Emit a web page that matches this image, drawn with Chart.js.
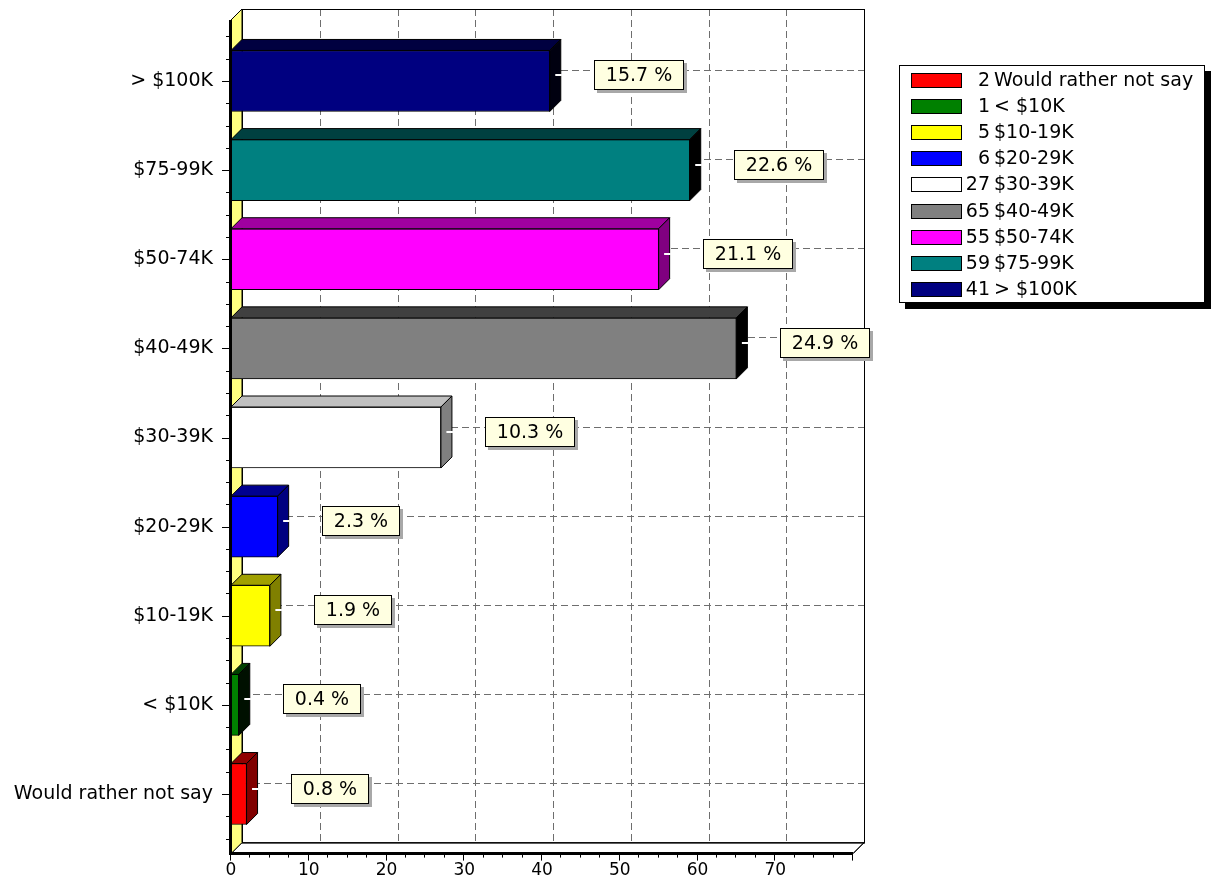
<!DOCTYPE html>
<html>
<head>
<meta charset="utf-8">
<title>Household income</title>
<script src="https://cdn.jsdelivr.net/npm/chart.js@4/dist/chart.umd.min.js"></script>
<style>
  html, body { margin: 0; padding: 0; background: #ffffff; overflow: hidden; }
  canvas { display: block; }
</style>
</head>
<body>
<canvas id="chart" width="1214" height="892"></canvas>
<script>
// Income brackets, bottom to top, and number of respondents in each
const categories = ['Would rather not say', '< $10K', '$10-19K', '$20-29K', '$30-39K', '$40-49K', '$50-74K', '$75-99K', '> $100K'];
const counts = [2, 1, 5, 6, 27, 65, 55, 59, 41];
const xTickValues = [0, 10, 20, 30, 40, 50, 60, 70];
const xMax = 80;

// Face colours of each 3D bar: front, top, side
const frontColors = ['#FF0000', '#008000', '#FFFF00', '#0000FF', '#FFFFFF', '#808080', '#FF00FF', '#008080', '#000080'];
const topColors   = ['#900000', '#004000', '#A0A000', '#000090', '#C0C0C0', '#404040', '#A000A0', '#004040', '#000040'];
const sideColors  = ['#800000', '#001000', '#808000', '#000080', '#808080', '#000000', '#800080', '#000000', '#000010'];

const total = counts.reduce((a, b) => a + b, 0);
const DEPTH = 11;          // 3D offset of the back wall
const FRAME_TOP = 16.4;    // frame extends this far above the first band
const FRAME_BOTTOM = 15;   // and this far below the last band
const FONT = 'DejaVu Sans';

Chart.defaults.font.family = FONT;

function frameBox(chart) {
  const a = chart.chartArea;
  return { L: a.left, R: a.right, T: a.top - FRAME_TOP, B: a.bottom + FRAME_BOTTOM };
}

const wallsPlugin = {
  id: 'walls3d',
  beforeDatasetsDraw(chart) {
    const ctx = chart.ctx;
    const { L, R, T, B } = frameBox(chart);
    const xs = chart.scales.x, ys = chart.scales.y;
    const D = DEPTH;
    ctx.save();
    // back wall
    ctx.fillStyle = '#ffffff';
    ctx.fillRect(L + D, T - D, R - L, B - T);
    // floor
    ctx.beginPath();
    ctx.moveTo(L, B); ctx.lineTo(L + D, B - D); ctx.lineTo(R + D, B - D); ctx.lineTo(R, B); ctx.closePath();
    ctx.fillStyle = '#ffffff'; ctx.fill();
    ctx.strokeStyle = '#000'; ctx.lineWidth = 1; ctx.stroke();

    // dashed grid on the back wall
    ctx.strokeStyle = '#6e6e6e';
    ctx.lineWidth = 1;
    ctx.setLineDash([7, 4]);
    xTickValues.forEach(v => {
      if (v === 0) return;
      const x = Math.round(xs.getPixelForValue(v) + D) + 0.5;
      ctx.beginPath(); ctx.moveTo(x, T - D); ctx.lineTo(x, B - D); ctx.stroke();
    });
    categories.forEach((c, i) => {
      const y = Math.round(ys.getPixelForValue(i) - D) + 0.5;
      ctx.beginPath(); ctx.moveTo(L + D, y); ctx.lineTo(R + D, y); ctx.stroke();
    });
    ctx.setLineDash([]);

    // back wall outline
    ctx.strokeStyle = '#000';
    ctx.strokeRect(Math.round(L + D) + 0.5, Math.round(T - D) + 0.5, R - L, B - T);

    // left side wall
    ctx.beginPath();
    ctx.moveTo(L, T); ctx.lineTo(L + D, T - D); ctx.lineTo(L + D, B - D); ctx.lineTo(L, B); ctx.closePath();
    ctx.fillStyle = '#FFFF80'; ctx.fill();
    ctx.stroke();
    ctx.restore();
  },
  afterDatasetsDraw(chart) {
    const ctx = chart.ctx;
    const { L, R, T, B } = frameBox(chart);
    const xs = chart.scales.x, ys = chart.scales.y;
    const D = DEPTH;
    const meta = chart.getDatasetMeta(0);
    ctx.save();
    ctx.lineWidth = 1;
    ctx.strokeStyle = '#000';
    meta.data.forEach((bar, i) => {
      const p = bar.getProps(['x', 'y', 'base', 'height'], true);
      const top = p.y - p.height / 2, bot = p.y + p.height / 2;
      // top face
      ctx.beginPath();
      ctx.moveTo(p.base, top); ctx.lineTo(p.base + D, top - D); ctx.lineTo(p.x + D, top - D); ctx.lineTo(p.x, top); ctx.closePath();
      ctx.fillStyle = topColors[i]; ctx.fill(); ctx.stroke();
      // side face
      ctx.beginPath();
      ctx.moveTo(p.x, top); ctx.lineTo(p.x + D, top - D); ctx.lineTo(p.x + D, bot - D); ctx.lineTo(p.x, bot); ctx.closePath();
      ctx.fillStyle = sideColors[i]; ctx.fill(); ctx.stroke();
      // small marker on the side face
      ctx.beginPath();
      ctx.strokeStyle = '#ffffff'; ctx.lineWidth = 2;
      ctx.moveTo(p.x + D / 2, Math.round(p.y - D / 2)); ctx.lineTo(p.x + D + 1, Math.round(p.y - D / 2));
      ctx.stroke();
      ctx.strokeStyle = '#000'; ctx.lineWidth = 1;

      // percentage label
      const text = (counts[i] / total * 100).toFixed(1) + ' %';
      ctx.font = '19px "' + FONT + '"';
      const w = Math.round(ctx.measureText(text).width + 24);
      const h = 30;
      const bx = Math.round(p.x + D + 33), by = Math.round(p.y - D / 2 - h / 2);
      ctx.fillStyle = '#a8a8a8';
      ctx.fillRect(bx + 3, by + 3, w, h);
      ctx.fillStyle = '#FFFFE1';
      ctx.fillRect(bx, by, w, h);
      ctx.strokeRect(bx + 0.5, by + 0.5, w - 1, h - 1);
      ctx.fillStyle = '#000';
      ctx.textAlign = 'center';
      ctx.textBaseline = 'middle';
      ctx.fillText(text, bx + w / 2, by + h / 2 + 1);
    });

    // front axes
    ctx.strokeStyle = '#000';
    ctx.lineWidth = 3;
    ctx.beginPath(); ctx.moveTo(L - 0.5, T); ctx.lineTo(L - 0.5, B + 1.5); ctx.stroke();
    ctx.beginPath(); ctx.moveTo(L - 2, B); ctx.lineTo(R, B); ctx.stroke();
    ctx.lineWidth = 1;
    ctx.beginPath(); ctx.moveTo(R, B); ctx.lineTo(R + D, B - D); ctx.stroke();

    // x axis tick marks (major every 10, minor every 2.5)
    for (let v = 0; v <= xMax; v += 2.5) {
      const x = Math.round(xs.getPixelForValue(v)) - 0.5;
      const major = v % 10 === 0;
      ctx.beginPath(); ctx.moveTo(x, B + 1); ctx.lineTo(x, B + (major ? 7 : 4)); ctx.stroke();
    }
    // y axis tick marks (major at each bracket, minor at quarter steps)
    const step = Math.abs(ys.getPixelForValue(1) - ys.getPixelForValue(0));
    for (let k = -2; k <= categories.length * 4 - 2; k++) {
      const y = Math.round(ys.getPixelForValue(0) - k * step / 4) + 0.5;
      if (y < T || y > B) continue;
      const major = k % 4 === 0;
      ctx.beginPath(); ctx.moveTo(L - 2, y); ctx.lineTo(L - (major ? 9 : 5), y); ctx.stroke();
    }
    ctx.restore();
  }
};

const legendPlugin = {
  id: 'boxLegend',
  afterDraw(chart) {
    const ctx = chart.ctx;
    const x0 = 899, y0 = 65, w = 306, h = 238;
    ctx.save();
    ctx.fillStyle = '#000';
    ctx.fillRect(x0 + 6, y0 + 6, w, h);
    ctx.fillStyle = '#fff';
    ctx.fillRect(x0, y0, w, h);
    ctx.strokeStyle = '#000';
    ctx.lineWidth = 1;
    ctx.strokeRect(x0 + 0.5, y0 + 0.5, w - 1, h - 1);
    ctx.font = '19px "' + FONT + '"';
    ctx.textBaseline = 'middle';
    categories.forEach((c, i) => {
      const cy = Math.round(80 + i * 26.1);
      ctx.fillStyle = frontColors[i];
      ctx.fillRect(911, cy - 7, 51, 15);
      ctx.strokeRect(911.5, cy - 6.5, 50, 14);
      ctx.fillStyle = '#000';
      ctx.textAlign = 'right';
      ctx.fillText(String(counts[i]), 990, cy + 1);
      ctx.textAlign = 'left';
      ctx.fillText(c, 994, cy + 1);
    });
    ctx.restore();
  }
};

new Chart(document.getElementById('chart'), {
  type: 'bar',
  data: {
    labels: categories,
    datasets: [{
      data: counts,
      backgroundColor: frontColors,
      borderColor: '#000000',
      borderWidth: 1,
      borderSkipped: false,
      barThickness: 61
    }]
  },
  options: {
    indexAxis: 'y',
    responsive: false,
    animation: false,
    devicePixelRatio: 1,
    layout: { padding: { top: 36.4, right: 361, bottom: 13.4, left: 0 } },
    plugins: { legend: { display: false }, tooltip: { enabled: false } },
    scales: {
      x: {
        type: 'linear',
        min: 0,
        max: xMax,
        grid: { display: false, drawTicks: false },
        border: { display: false },
        afterBuildTicks: s => { s.ticks = xTickValues.map(v => ({ value: v })); },
        afterFit: s => { s.height = 40; },
        ticks: { color: '#000', font: { size: 17 }, padding: 22, maxRotation: 0 }
      },
      y: {
        reverse: true,
        grid: { display: false, drawTicks: false },
        border: { display: false },
        afterFit: s => { s.width = 231; },
        ticks: { color: '#000', font: { size: 19 }, padding: 18 }
      }
    }
  },
  plugins: [wallsPlugin, legendPlugin]
});
</script>
</body>
</html>
